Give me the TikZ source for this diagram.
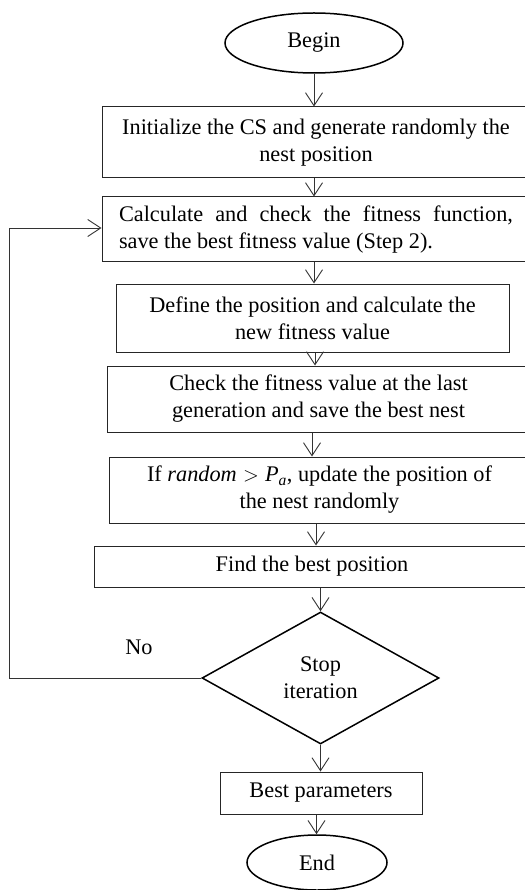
\documentclass[tikz,border=0pt]{standalone}
\usepackage{fontspec}
\setmainfont{Liberation Serif}
\usetikzlibrary{shapes.geometric,arrows.meta}
\begin{document}
\begin{tikzpicture}[x=1pt,y=-1pt,
  every node/.style={font=\fontsize{22.3}{27}\selectfont},
  box/.style={draw=black!85,line width=1pt,rectangle,inner sep=0pt,align=center},
  term/.style={draw=black,line width=1.5pt,ellipse,inner sep=0pt},
  dec/.style={draw=black,line width=1.5pt,diamond,inner sep=0pt,align=center},
  arr/.style={draw=black!80,line width=0.9pt,-{Straight Barb[length=13pt,width=17pt,line width=0.9pt]}}]
\useasboundingbox (0,0) rectangle (524,890);
\node[term,minimum width=178,minimum height=60] (begin) at (314,43) {Begin};
\node[box,minimum width=428,minimum height=71] (b1) at (316,142.5) {Initialize the CS and generate randomly the\\nest position};
\node[box,minimum width=428,minimum height=65] (b2) at (316,229.5) {\parbox{394pt}{\raggedright\hbox to 394pt{Calculate\hfill and\hfill check\hfill the\hfill fitness\hfill function,}\par save the best fitness value (Step 2).}};
\node[box,minimum width=393,minimum height=68] (b3) at (312.5,318) {Define the position and calculate the\\new fitness value};
\node[box,minimum width=423,minimum height=66] (b4) at (318.5,399) {Check the fitness value at the last\\generation and save the best nest};
\node[box,minimum width=421,minimum height=66] (b5) at (319.5,490) {If \textit{random}\;$>$\;\textit{P\textsubscript{a}}, update the position of\\the nest randomly};
\node[box,minimum width=436,minimum height=41] (b6) at (312,566.5) {Find the best position};
\node[dec,minimum width=237,minimum height=132] (dia) at (320.5,678) {Stop\\iteration};
\node[box,minimum width=202,minimum height=42] (bp) at (321,793) {Best parameters};
\node[term,minimum width=140,minimum height=55] (end) at (317,862.5) {End};
\node (no) at (139,647) {No};
\coordinate (c1) at (9,678);
\coordinate (c2) at (9,228);
\draw[arr] (begin.south) -- (begin.south |- b1.north);
\draw[arr] (b1.south -| begin) -- (b2.north -| begin);
\draw[arr] (b2.south -| begin) -- (b3.north -| begin);
\draw[arr] ([xshift=1pt]b3.south -| begin) -- ([xshift=1pt]b4.north -| begin);
\draw[arr] ([xshift=-2pt]b4.south -| begin) -- ([xshift=-2pt]b5.north -| begin);
\draw[arr] ([xshift=2pt]b5.south -| begin) -- ([xshift=2pt]b6.north -| begin);
\draw[arr] (b6.south -| dia) -- (dia.north);
\draw[arr] (dia.south) -- (dia.south |- bp.north);
\draw[arr] ([xshift=-4pt]bp.south -| dia) -- ([xshift=-4pt]end.north -| dia);
\draw[arr] (dia.west) -- (c1) -- (c2) -- (c2 -| b2.west);
\end{tikzpicture}
\end{document}
